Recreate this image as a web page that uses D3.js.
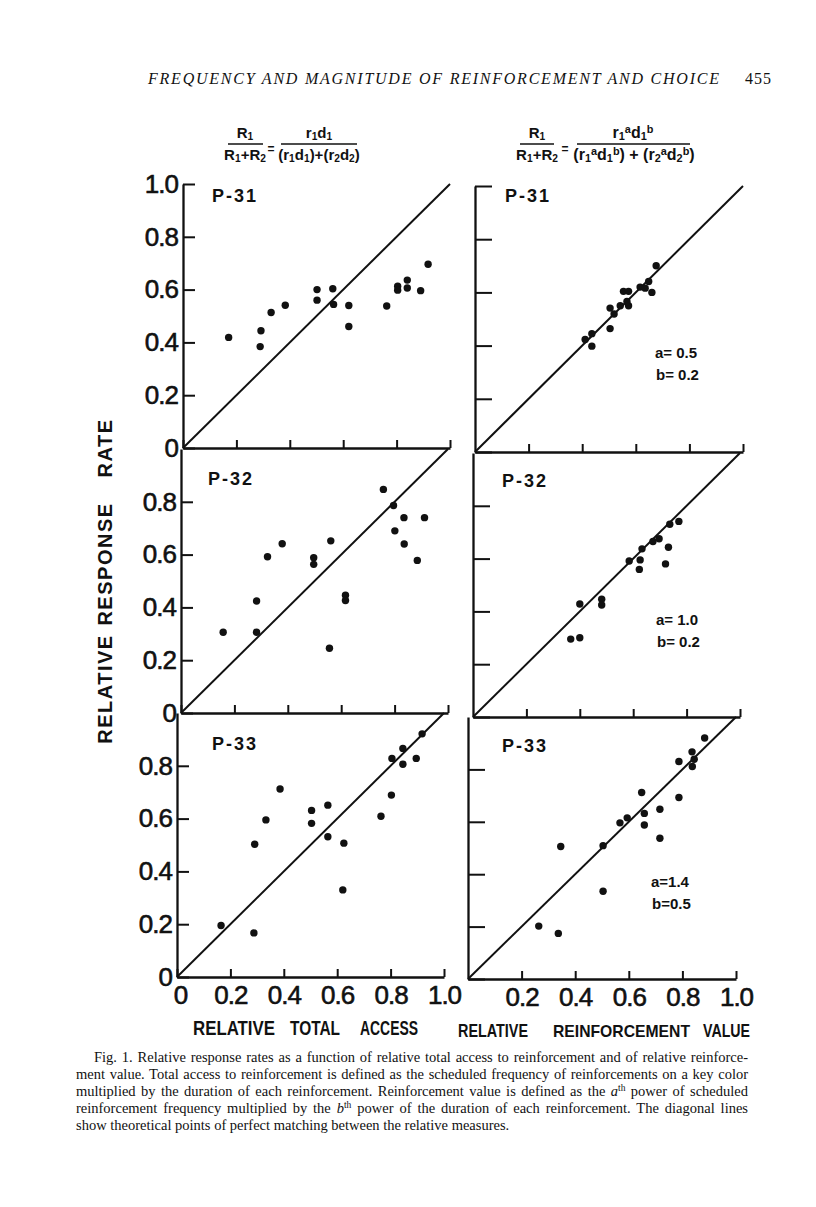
<!DOCTYPE html>
<html>
<head>
<meta charset="utf-8">
<script src="https://cdn.jsdelivr.net/npm/d3@7"></script>
<style>
body { margin: 0; background: #fff; }
svg { display: block; }
</style>
</head>
<body>
<div id="fig"></div>
<script>

var width = 816,
    height = 1207,
    ink = "#111";

// relative total access (x) vs relative response rate (y), left column
var accessP31 = [[0.171,0.419],[0.292,0.444],[0.289,0.384],[0.330,0.513],[0.383,0.541],[0.502,0.600],
    [0.502,0.560],[0.561,0.603],[0.564,0.544],[0.621,0.540],[0.621,0.460],[0.763,0.538],
    [0.804,0.613],[0.804,0.598],[0.840,0.636],[0.840,0.606],[0.890,0.596],[0.918,0.696]];
var accessP32 = [[0.158,0.306],[0.283,0.424],[0.283,0.306],[0.324,0.592],[0.379,0.641],[0.497,0.588],
    [0.497,0.563],[0.561,0.652],[0.556,0.245],[0.616,0.446],[0.616,0.426],[0.758,0.847],
    [0.796,0.786],[0.801,0.690],[0.835,0.740],[0.836,0.640],[0.885,0.578],[0.912,0.740]];
var accessP33 = [[0.165,0.195],[0.288,0.167],[0.291,0.503],[0.333,0.595],[0.386,0.712],[0.504,0.631],
    [0.504,0.582],[0.565,0.651],[0.565,0.531],[0.625,0.507],[0.621,0.330],[0.764,0.609],
    [0.803,0.689],[0.805,0.828],[0.846,0.866],[0.846,0.806],[0.896,0.828],[0.918,0.921]];

// relative reinforcement value (x) vs relative response rate (y), right column
var valueP31 = [[0.411,0.423],[0.436,0.445],[0.436,0.398],[0.504,0.541],[0.504,0.464],[0.519,0.519],
    [0.542,0.550],[0.554,0.604],[0.573,0.604],[0.573,0.550],[0.567,0.566],[0.616,0.620],
    [0.635,0.616],[0.648,0.641],[0.660,0.600],[0.676,0.700]];
var valueP32 = [[0.366,0.295],[0.400,0.300],[0.400,0.428],[0.482,0.446],[0.482,0.424],[0.585,0.591],
    [0.626,0.595],[0.623,0.559],[0.633,0.637],[0.674,0.665],[0.697,0.675],[0.732,0.643],
    [0.721,0.580],[0.737,0.730],[0.771,0.741]];
var valueP33 = [[0.264,0.202],[0.337,0.174],[0.346,0.506],[0.504,0.509],[0.504,0.335],[0.567,0.596],
    [0.594,0.615],[0.648,0.712],[0.658,0.632],[0.658,0.588],[0.716,0.648],[0.716,0.537],
    [0.787,0.830],[0.787,0.693],[0.836,0.867],[0.837,0.811],[0.844,0.839],[0.883,0.920]];

var birds = ["P-31", "P-32", "P-33"];
var exponentA = ["a= 0.5", "a= 1.0", "a=1.4"];
var exponentB = ["b= 0.2", "b= 0.2", "b=0.5"];
var yTicks = [0, 0.2, 0.4, 0.6, 0.8, 1.0];
var xTicksLeft = [0, 0.2, 0.4, 0.6, 0.8, 1.0];
var xTicksRight = [0.2, 0.4, 0.6, 0.8, 1.0];

var captionLines = [
    [["Fig. 1. Relative response rates as a function of relative total access to reinforcement and of relative reinforce-"]],
    [["ment value. Total access to reinforcement is defined as the scheduled frequency of reinforcements on a key color"]],
    [["multiplied by the duration of each reinforcement. Reinforcement value is defined as the "], ["a", "it"], ["th", "sup"], [" power of scheduled"]],
    [["reinforcement frequency multiplied by the "], ["b", "it"], ["th", "sup"], [" power of the duration of each reinforcement. The diagonal lines"]],
    [["show theoretical points of perfect matching between the relative measures."]]
];

// frame of each panel on the scanned page (it is slightly skewed)
var frames = [
    [{x0: 183, y0: 448, w: 267, h: 264}, {x0: 475, y0: 452, w: 268, h: 266}],
    [{x0: 181, y0: 713, w: 267, h: 264}, {x0: 473, y0: 717, w: 267, h: 264}],
    [{x0: 177, y0: 977, w: 267, h: 264}, {x0: 468, y0: 979, w: 268, h: 262}]
];
var labelPos = [[[212, 202], [505, 202]], [[208, 485], [502, 487]], [[212, 750], [502, 752]]];
var abPos = [[655, 358], [656, 625], [651, 887]];

var tickFont = "'Liberation Sans Narrow', 'Arial Narrow', sans-serif";

var svg = d3.select("#fig")
    .append("svg")
    .attr("width", width)
    .attr("height", height);

svg.append("rect")
    .attr("width", width)
    .attr("height", height)
    .attr("fill", "#fff");

function fmt(d) {
    return d === 0 ? "0" : d.toFixed(1);
}

function drawPanel(row, col, pts) {
    var f = frames[row][col];
    var x = d3.scaleLinear().domain([0, 1]).range([f.x0, f.x0 + f.w]);
    var y = d3.scaleLinear().domain([0, 1]).range([f.y0, f.y0 - f.h]);
    var g = svg.append("g");

    var yAxis = d3.axisLeft(y)
        .tickValues(row === 0 ? yTicks : yTicks.slice(0, 5))
        .tickSizeInner(col === 0 ? -12 : -17)
        .tickSizeOuter(0)
        .tickPadding(5)
        .tickFormat(col === 0 ? fmt : "");

    var xAxis = d3.axisBottom(x)
        .tickValues(col === 0 ? xTicksLeft : xTicksRight)
        .tickSizeInner(-8)
        .tickSizeOuter(0)
        .tickPadding(9)
        .tickFormat(row === 2 ? fmt : "");

    var ya = g.append("g").attr("transform", "translate(" + f.x0 + ",0)").call(yAxis);
    var xa = g.append("g").attr("transform", "translate(0," + f.y0 + ")").call(xAxis);

    [ya, xa].forEach(function (a) {
        a.attr("font-family", null).attr("font-size", null);
        a.select(".domain").attr("stroke", ink).attr("stroke-width", 2.3);
        a.selectAll(".tick line").attr("stroke", ink).attr("stroke-width", 2);
        a.selectAll(".tick text")
            .attr("fill", ink)
            .attr("stroke", ink)
            .attr("stroke-width", 0.6)
            .style("font-family", tickFont)
            .style("font-size", "26px")
            .style("letter-spacing", "-1px");
    });
    // label "0" of the lowest x axis sits a bit right of the y axis
    xa.selectAll(".tick text").filter(function (d) { return d === 0; }).attr("dx", 3);

    g.append("line")
        .attr("x1", x(0)).attr("y1", y(0))
        .attr("x2", x(1)).attr("y2", y(1))
        .attr("stroke", ink)
        .attr("stroke-width", 2);

    g.selectAll("circle")
        .data(pts)
        .enter()
        .append("circle")
        .attr("cx", function (d) { return x(d[0]); })
        .attr("cy", function (d) { return y(d[1]); })
        .attr("r", 3.7)
        .attr("fill", ink);

    g.append("text")
        .attr("x", labelPos[row][col][0])
        .attr("y", labelPos[row][col][1])
        .style("font-family", "'Liberation Sans', Arial, sans-serif")
        .style("font-size", "18px")
        .style("font-weight", "bold")
        .style("letter-spacing", "2px")
        .attr("fill", ink)
        .text(birds[row]);

    if (col === 1) {
        [exponentA[row], exponentB[row]].forEach(function (s, i) {
            g.append("text")
                .attr("x", abPos[row][0] + (i === 1 ? 1 : 0))
                .attr("y", abPos[row][1] + i * 22)
                .style("font-family", "'Liberation Sans', Arial, sans-serif")
                .style("font-size", "15px")
                .style("font-weight", "bold")
                .attr("fill", ink)
                .text(s);
        });
    }
}

var leftData = [accessP31, accessP32, accessP33];
var rightData = [valueP31, valueP32, valueP33];
for (var r = 0; r < 3; r++) {
    drawPanel(r, 0, leftData[r]);
    drawPanel(r, 1, rightData[r]);
}

// header
svg.append("text")
    .attr("x", 148)
    .attr("y", 84)
    .attr("textLength", 571)
    .attr("lengthAdjust", "spacing")
    .style("font-family", "'Liberation Serif', 'Times New Roman', serif")
    .style("font-style", "italic")
    .style("font-size", "16px")
    .attr("fill", ink)
    .text("FREQUENCY AND MAGNITUDE OF REINFORCEMENT AND CHOICE");

svg.append("text")
    .attr("x", 745)
    .attr("y", 84)
    .style("font-family", "'Liberation Serif', 'Times New Roman', serif")
    .style("font-size", "16px")
    .style("letter-spacing", "1px")
    .attr("fill", ink)
    .text("455");

// formulas
function rich(cx, cy, parts, size) {
    var t = svg.append("text")
        .attr("x", cx)
        .attr("y", cy)
        .attr("text-anchor", "middle")
        .style("font-family", tickFont)
        .style("font-size", size + "px")
        .style("font-weight", "bold")
        .attr("fill", ink);
    var shift = 0;
    parts.forEach(function (p) {
        var target = p[1] === "sub" ? 2 : (p[1] === "sup" ? -5 : 0);
        t.append("tspan")
            .attr("dy", target - shift)
            .style("font-size", (p[1] ? size * 0.68 : size) + "px")
            .text(p[0]);
        shift = target;
    });
    return t;
}

function bar(x1, x2, yy) {
    svg.append("line")
        .attr("x1", x1).attr("x2", x2)
        .attr("y1", yy).attr("y2", yy)
        .attr("stroke", ink)
        .attr("stroke-width", 1.6);
}

rich(245, 138, [["R"], ["1", "sub"]], 15);
bar(228, 263, 144);
rich(245, 160, [["R"], ["1", "sub"], ["+R"], ["2", "sub"]], 15);
rich(271, 153, [["="]], 12);
rich(319, 138, [["r"], ["1", "sub"], ["d"], ["1", "sub"]], 15);
bar(281, 357, 144);
rich(319, 160, [["(r"], ["1", "sub"], ["d"], ["1", "sub"], [")+(r"], ["2", "sub"], ["d"], ["2", "sub"], [")"]], 15);

rich(537, 138, [["R"], ["1", "sub"]], 15);
bar(520, 554, 144);
rich(537, 160, [["R"], ["1", "sub"], ["+R"], ["2", "sub"]], 15);
rich(565, 153, [["="]], 12);
rich(633, 138, [["r"], ["1", "sub"], ["a", "sup"], ["d"], ["1", "sub"], ["b", "sup"]], 16);
bar(577, 690, 144);
rich(634, 160, [["(r"], ["1", "sub"], ["a", "sup"], ["d"], ["1", "sub"], ["b", "sup"], [") + (r"], ["2", "sub"], ["a", "sup"], ["d"], ["2", "sub"], ["b", "sup"], [")"]], 16);

// axis titles
var titleFont = "'Liberation Sans Narrow', 'Arial Narrow', sans-serif";
[["RELATIVE", 689], ["RESPONSE", 564], ["RATE", 448]].forEach(function (w) {
    svg.append("text")
        .attr("transform", "translate(112," + w[1] + ") rotate(-90)")
        .attr("text-anchor", "middle")
        .style("font-family", titleFont)
        .style("font-size", "20px")
        .style("font-weight", "bold")
        .style("letter-spacing", "1.5px")
        .attr("fill", ink)
        .text(w[0]);
});

// each word of the x titles placed where it stands in the figure
[["RELATIVE", 193, 82, 1035, 20], ["TOTAL", 290, 50, 1035, 20], ["ACCESS", 360, 58, 1035, 20],
 ["RELATIVE", 458, 70, 1037, 18], ["REINFORCEMENT", 553, 137, 1037, 17], ["VALUE", 703, 47, 1037, 18]]
    .forEach(function (w) {
        svg.append("text")
            .attr("x", w[1])
            .attr("y", w[3])
            .attr("textLength", w[2])
            .attr("lengthAdjust", "spacingAndGlyphs")
            .style("font-family", titleFont)
            .style("font-size", w[4] + "px")
            .style("font-weight", "bold")
            .attr("fill", ink)
            .text(w[0]);
    });

// caption, justified by word spacing
var capLeft = 76, capRight = 748;
captionLines.forEach(function (line, i) {
    var x0 = i === 0 ? 94 : capLeft;
    var t = svg.append("text")
        .attr("x", x0)
        .attr("y", 1062 + i * 17)
        .style("font-family", "'Liberation Serif', 'Times New Roman', serif")
        .style("font-size", "14.5px")
        .attr("fill", ink);
    var spaces = 0;
    line.forEach(function (p) {
        var s = t.append("tspan").text(p[0]);
        if (p[1] === "it") s.style("font-style", "italic");
        if (p[1] === "sup") s.style("font-size", "9.5px").attr("dy", -5);
        if (line.length > 1 && p[1] !== "sup" && p[1] !== "it" && p !== line[0]) s.attr("dy", 5);
        spaces += (p[0].match(/ /g) || []).length;
    });
    if (i < captionLines.length - 1) {
        var natural = t.node().getComputedTextLength();
        var extra = (capRight - x0 - natural) / spaces;
        t.style("word-spacing", extra + "px");
    }
});

</script>
</body>
</html>
